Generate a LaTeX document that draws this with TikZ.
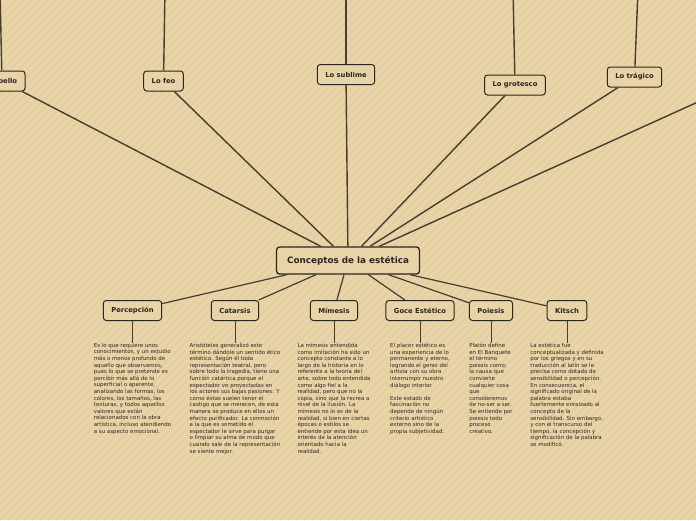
\documentclass[tikz,border=0pt]{standalone}
\usepackage{fontspec}
\setmainfont{DejaVu Sans}
\definecolor{paper}{HTML}{E9D4A8}
\definecolor{stripe}{HTML}{E3CD9F}
\definecolor{ink}{HTML}{2A2620}
\definecolor{link}{HTML}{453C32}
\begin{document}
\begin{tikzpicture}[x=1pt,y=-1pt,
  topic/.style={draw=ink, line width=1pt, fill=paper, rounded corners=3pt, minimum height=20pt, inner xsep=8pt, font=\fontsize{6.8}{7.5}\selectfont\bfseries, text=ink},
  root/.style={topic, line width=1.3pt, minimum height=27pt, inner xsep=10.5pt, font=\fontsize{8.8}{10}\selectfont\bfseries},
  note/.style={inner sep=0pt, align=left, anchor=north, font=\fontsize{5.45}{6.6}\selectfont, text=ink},
  branch/.style={draw=link, line width=1.4pt},
  twig/.style={draw=link, line width=1.2pt},
  stub/.style={draw=link, line width=0.6pt}]
\useasboundingbox (0,0) rectangle (696,520);
\clip (0,0) rectangle (696,520);
\fill[paper] (0,0) rectangle (696,520);
\foreach \i in {-528,-520,...,696}
  \draw[stripe, line width=1.2pt] (\i,520) -- (\i+520,0);

\node[root] (root) at (348,260.5) {Conceptos de la estética};

% upper branches
\node[topic] (bello) at (2,81) {Lo bello};
\node[topic] (feo) at (163.5,81) {Lo feo};
\node[topic] (sublime) at (346,74.5) {Lo sublime};
\node[topic] (grotesco) at (515,85) {Lo grotesco};
\node[topic] (tragico) at (634.5,77) {Lo trágico};
\coordinate (offright) at (731,87);

\coordinate (bellotop) at (0,-10);
\coordinate (feotop) at (165,-10);
\coordinate (sublimetop) at (346,-10);
\coordinate (grotescotop) at (513,-10);
\coordinate (tragicotop) at (638,-10);

\draw[branch] (bellotop) -- (bello);
\draw[branch] (feotop) -- (feo);
\draw[branch] (sublimetop) -- (sublime);
\draw[branch] (grotescotop) -- (grotesco);
\draw[branch] (tragicotop) -- (tragico);

\draw[branch] (root) -- (bello);
\draw[branch] (root) -- (feo);
\draw[branch] (root) -- (sublime);
\draw[branch] (root) -- (grotesco);
\draw[branch] (root) -- (tragico);
\draw[branch] (root) -- (offright);

% lower branches
\node[topic] (percepcion) at (132.5,310.5) {Percepción};
\node[topic] (catarsis) at (235,310.5) {Catarsis};
\node[topic] (mimesis) at (334,310.5) {Mímesis};
\node[topic] (goce) at (420,310.5) {Goce Estético};
\node[topic] (poiesis) at (491,310.5) {Poiesis};
\node[topic] (kitsch) at (567,310.5) {Kitsch};

\draw[twig] (root) -- (percepcion);
\draw[twig] (root) -- (catarsis);
\draw[twig] (root) -- (mimesis);
\draw[twig] (root) -- (goce);
\draw[twig] (root) -- (poiesis);
\draw[twig] (root) -- (kitsch);

\node[note] (percepciontext) at (132.5,343) {Es lo que requiere unos\\conocimientos, y un estudio\\más o menos profundo de\\aquello que observamos,\\pues lo que se pretende es\\percibir más allá de lo\\superficial o aparente,\\analizando las formas, los\\colores, los tamaños, las\\texturas, y todos aquellos\\valores que están\\relacionados con la obra\\artística, incluso atendiendo\\a su aspecto emocional.};
\node[note] (catarsistext) at (235,343) {Aristóteles generalizó este\\término dándole un sentido ético\\estético. Según él toda\\representación teatral, pero\\sobre todo la tragedia, tiene una\\función catártica porque el\\espectador ve proyectadas en\\los actores sus bajas pasiones. Y\\como éstas suelen tener el\\castigo que se merecen, de esta\\manera se produce en ellos un\\efecto purificador. La conmoción\\a la que es sometido el\\espectador le sirve para purgar\\o limpiar su alma de modo que\\cuando sale de la representación\\se siente mejor.};
\node[note] (mimesistext) at (334,343) {La mímesis entendida\\como imitación ha sido un\\concepto constante a lo\\largo de la historia en lo\\referente a la teoría del\\arte, sobre todo entendida\\como algo fiel a la\\realidad, pero que no la\\copia, sino que la recrea a\\nivel de la ilusión. La\\mímesis no lo es de la\\realidad, si bien en ciertas\\épocas o estilos se\\entiende por esta idea un\\interés de la atención\\orientado hacia la\\realidad.};
\node[note] (gocetext) at (420,343) {El placer estético es\\una experiencia de lo\\permanente y eterno,\\logrando el genio del\\artista con su obra\\interrumpir nuestro\\diálogo interior.\\[6.6pt]Este estado de\\fascinación no\\depende de ningún\\criterio artístico\\externo sino de la\\propia subjetividad.};
\node[note] (poiesistext) at (491,343) {Platón define\\en El Banquete\\el término\\poiesis como;\\la causa que\\convierte\\cualquier cosa\\que\\consideremos\\de no-ser a ser.\\Se entiende por\\poiesis todo\\proceso\\creativo.};
\node[note] (kitschtext) at (567,343) {La estética fue\\conceptualizada y definida\\por los griegos y en su\\traducción al latín se le\\precisa como dotado de\\sensibilidad o percepción.\\En consecuencia, el\\significado original de la\\palabra estaba\\fuertemente enraizado al\\concepto de la\\sensibilidad. Sin embargo,\\y con el transcurso del\\tiempo, la concepción y\\significación de la palabra\\se modificó.};

\draw[stub] (percepcion) -- (percepciontext);
\draw[stub] (catarsis) -- (catarsistext);
\draw[stub] (mimesis) -- (mimesistext);
\draw[stub] (goce) -- (gocetext);
\draw[stub] (poiesis) -- (poiesistext);
\draw[stub] (kitsch) -- (kitschtext);
\end{tikzpicture}
\end{document}
